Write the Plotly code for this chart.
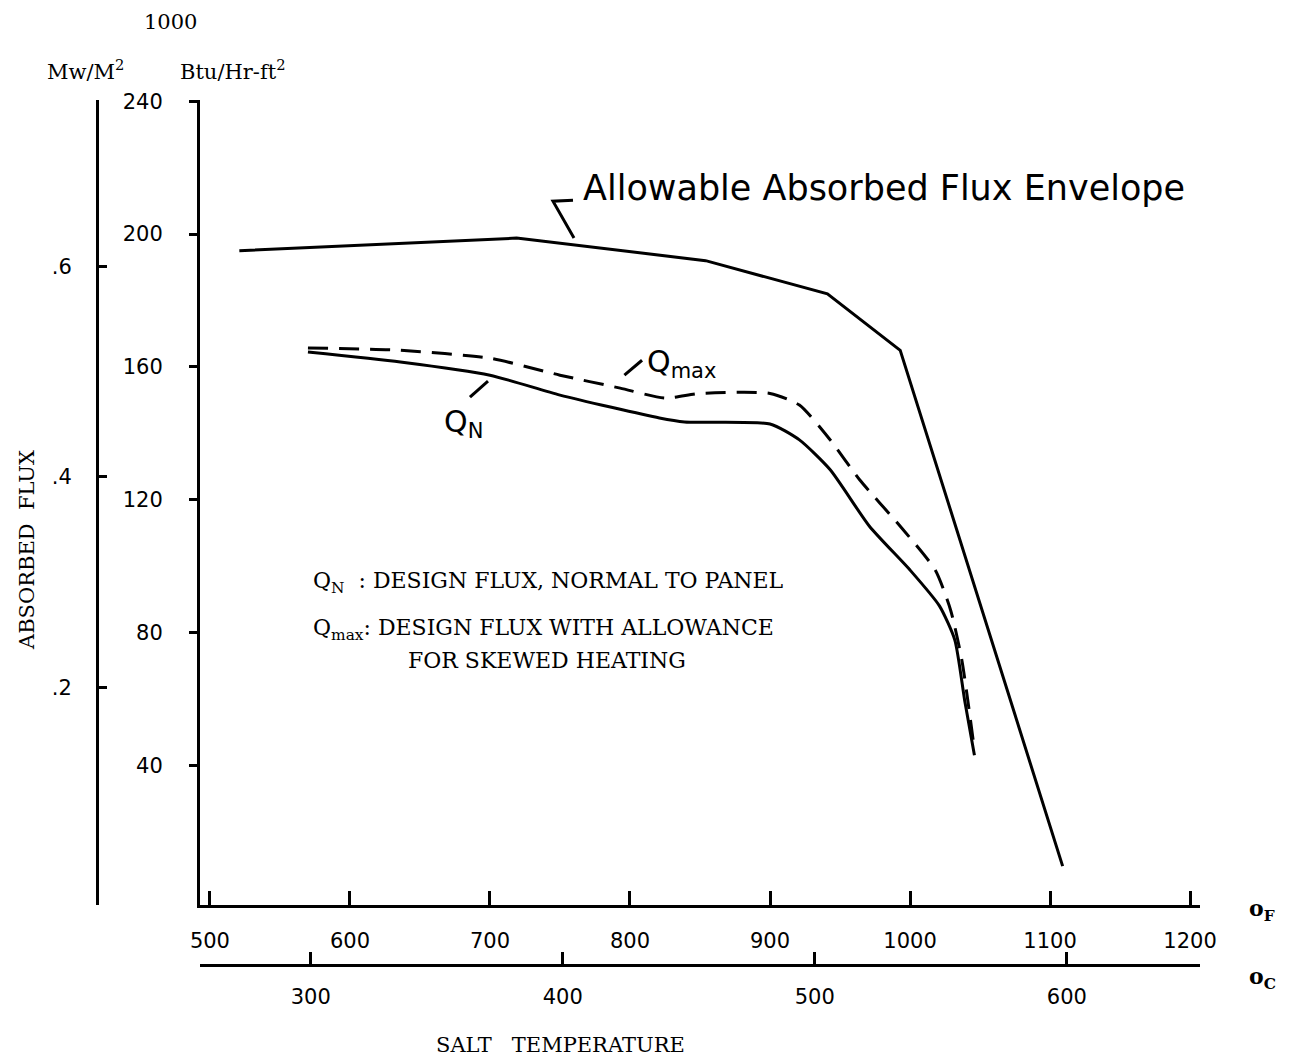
import plotly.graph_objects as go

# ---- data ----
env_F = [521, 719, 854, 941, 993, 1109]
env_Q = [195, 198.8, 192, 182, 165, 9.6]

qn_F = [570, 636, 700, 750, 821, 839, 900, 921, 943, 971, 1000, 1021, 1032, 1039, 1046]
qn_Q = [164.5, 161.5, 157.5, 151.5, 144.6, 143.4, 142.8, 138, 129, 112, 98.8, 88, 77.7, 59.6, 43]

qmax_F = [570, 636, 700, 750, 793, 825, 850, 900, 921, 943, 964, 993, 1018, 1029, 1037, 1046]
qmax_Q = [165.7, 165, 162.6, 157.5, 153.6, 150.6, 152, 152, 148.5, 138, 126, 112, 98.8, 86.7, 71.7, 44.6]

btu_ticks = [40, 80, 120, 160, 200, 240]
F_ticks = [500, 600, 700, 800, 900, 1000, 1100, 1200]
C_ticks = [300, 400, 500, 600]
mw_ticks = [0.2, 0.4, 0.6]
mw_labels = [".2", ".4", ".6"]

BTU_PER_MW = 317.1  # 1 MW/m2 = 317.1 x1000 Btu/hr-ft2

x_rng = [492.9, 1207.1]
y_rng = [-2.1, 240.4]
c_rng = [(x_rng[0] - 32) / 1.8, (x_rng[1] - 32) / 1.8]
mw_rng = [y_rng[0] / BTU_PER_MW, y_rng[1] / BTU_PER_MW]

tick_font = dict(family="DejaVu Sans", size=21, color="black")
serif = "DejaVu Serif"
sans = "DejaVu Sans"

fig = go.Figure()
fig.add_trace(go.Scatter(x=env_F, y=env_Q, mode="lines",
                         line=dict(color="black", width=3), showlegend=False))
fig.add_trace(go.Scatter(x=qn_F, y=qn_Q, mode="lines",
                         line=dict(color="black", width=3, shape="spline", smoothing=0.6),
                         showlegend=False))
fig.add_trace(go.Scatter(x=qmax_F, y=qmax_Q, mode="lines",
                         line=dict(color="black", width=3, dash="20px,11px", shape="spline", smoothing=0.6),
                         showlegend=False))
# dummy traces to activate the secondary axes
fig.add_trace(go.Scatter(x=[None], y=[None], xaxis="x2", yaxis="y", showlegend=False))
fig.add_trace(go.Scatter(x=[None], y=[None], xaxis="x", yaxis="y2", showlegend=False))

ydom = [0.0694, 1]
fig.update_layout(
    width=1289, height=1063,
    margin=dict(l=90, r=89, t=100, b=98),
    paper_bgcolor="white", plot_bgcolor="white",
    font=dict(family=sans, color="black"),
    xaxis=dict(domain=[0.0991, 1], range=x_rng, tickvals=F_ticks,
               showline=True, linecolor="black", linewidth=3,
               ticks="inside", ticklen=14, tickwidth=3, tickcolor="black",
               showgrid=False, zeroline=False, tickfont=tick_font,
               anchor="y", ticklabelstandoff=15),
    xaxis2=dict(domain=[0.0991, 1], range=c_rng, tickvals=C_ticks,
                overlaying="x", anchor="free", position=0, side="bottom",
                showline=True, linecolor="black", linewidth=3,
                ticks="inside", ticklen=12, tickwidth=3, tickcolor="black",
                showgrid=False, zeroline=False, tickfont=tick_font,
                ticklabelstandoff=12),
    yaxis=dict(domain=ydom, range=y_rng, tickvals=btu_ticks,
               showline=True, linecolor="black", linewidth=3,
               ticks="outside", ticklen=8, tickwidth=3, tickcolor="black",
               showgrid=False, zeroline=False, tickfont=tick_font,
               anchor="x", ticklabelstandoff=22),
    yaxis2=dict(domain=ydom, range=mw_rng, tickvals=mw_ticks, ticktext=mw_labels,
                overlaying="y", anchor="free", position=0.0063, side="left",
                showline=True, linecolor="black", linewidth=3,
                ticks="inside", ticklen=8, tickwidth=3, tickcolor="black",
                showgrid=False, zeroline=False, tickfont=tick_font,
                ticklabelstandoff=20),
)

ann = []
def A(text, x, y, size, family=sans, xanchor="center", yanchor="middle", textangle=0):
    ann.append(dict(text=text, x=x, y=y, xref="paper", yref="paper", showarrow=False,
                    font=dict(family=family, size=size, color="black"),
                    xanchor=xanchor, yanchor=yanchor, textangle=textangle))

def P(px, py):
    # pixel -> paper helper for annotations outside plot
    return (px - 90) / 1110, (1063 - 98 - py) / 865

x0, y0 = P(170, 22); A("1000", x0, y0, 21, serif)
x0, y0 = P(85, 70); A("Mw/M<sup>2</sup>", x0, y0, 21, serif)
x0, y0 = P(233, 70); A("Btu/Hr-ft<sup>2</sup>", x0, y0, 21, serif)
x0, y0 = P(27, 550); A("ABSORBED  FLUX", x0, y0, 21, serif, textangle=-90)
x0, y0 = P(560, 1045); A("SALT   TEMPERATURE", x0, y0, 21, serif)
x0, y0 = P(1262, 910); A("<b>o<sub>F</sub></b>", x0, y0, 22, serif)
x0, y0 = P(1262, 978); A("<b>o<sub>C</sub></b>", x0, y0, 22, serif)

# in-plot labels (data coordinates)
ann.append(dict(text="Allowable Absorbed Flux Envelope", x=765, y=214, xref="x", yref="y",
                showarrow=False, xanchor="left", yanchor="middle",
                font=dict(family=sans, size=35, color="black")))
ann.append(dict(text="Q<sub>max</sub>", x=811, y=161, xref="x", yref="y",
                showarrow=False, xanchor="left", yanchor="middle",
                font=dict(family=sans, size=30, color="black")))
ann.append(dict(text="Q<sub>N</sub>", x=666, y=143, xref="x", yref="y",
                showarrow=False, xanchor="left", yanchor="middle",
                font=dict(family=sans, size=30, color="black")))
ann.append(dict(text="Q<sub>N</sub>  : DESIGN FLUX, NORMAL TO PANEL", x=572, y=95, xref="x", yref="y",
                showarrow=False, xanchor="left", yanchor="middle",
                font=dict(family=serif, size=22, color="black")))
ann.append(dict(text="Q<sub>max</sub>: DESIGN FLUX WITH ALLOWANCE", x=572, y=81, xref="x", yref="y",
                showarrow=False, xanchor="left", yanchor="middle",
                font=dict(family=serif, size=22, color="black")))
ann.append(dict(text="FOR SKEWED HEATING", x=640, y=71.5, xref="x", yref="y",
                showarrow=False, xanchor="left", yanchor="middle",
                font=dict(family=serif, size=22, color="black")))
fig.update_layout(annotations=ann)

# leader strokes
shapes = [
    dict(type="path", path="M 759.3,210.2 L 745,209.9 L 760,198.8", xref="x", yref="y",
         line=dict(color="black", width=3)),
    dict(type="line", x0=796, y0=157.5, x1=808.6, y1=162, xref="x", yref="y",
         line=dict(color="black", width=3)),
    dict(type="line", x0=685.7, y0=150.9, x1=698.6, y1=155.7, xref="x", yref="y",
         line=dict(color="black", width=3)),
]
fig.update_layout(shapes=shapes)

fig.write_html("out.html")
